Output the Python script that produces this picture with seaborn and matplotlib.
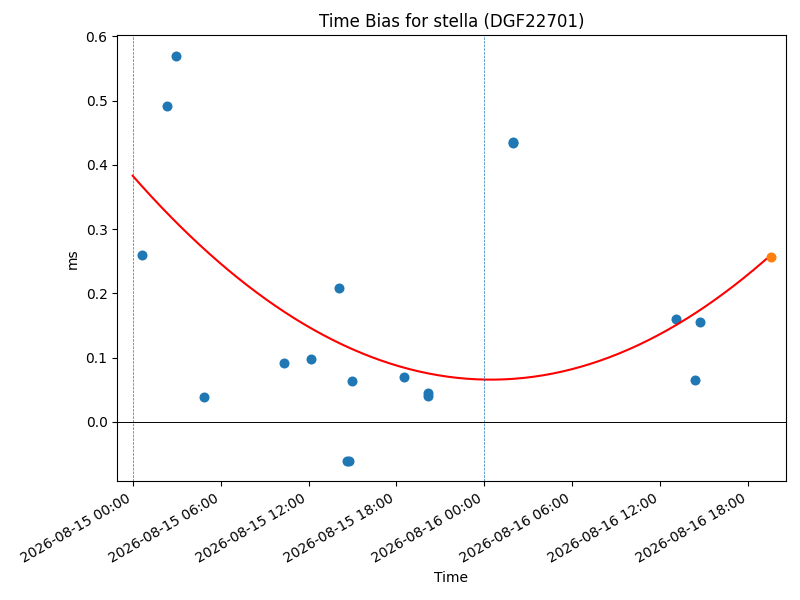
import numpy as np
import pandas as pd
import matplotlib
matplotlib.use('Agg')
import matplotlib.pyplot as plt
import matplotlib.dates as mdates
import seaborn as sns

# time bias samples, hours after 2026-08-15 00:00
start = pd.Timestamp('2026-08-15 00:00')
hours = [0.63, 2.34, 2.96, 4.87, 10.33, 12.17, 14.08, 14.63, 14.76, 14.97,
         18.52, 20.16, 20.16, 25.93, 25.98, 37.09, 38.39, 38.73]
bias_ms = [0.260, 0.492, 0.570, 0.039, 0.092, 0.098, 0.209, -0.061, -0.061, 0.064,
           0.070, 0.045, 0.040, 0.434, 0.435, 0.160, 0.065, 0.156]

# latest sample
last_hour = 43.52
last_bias = 0.257

# quadratic fit (highest power first), evaluated over [fit_start, fit_end] hours
fit_coef = [0.0005316, -0.02598, 0.383]
fit_start = 0.0
fit_end = 43.23

day_lines = ['2026-08-15 00:00', '2026-08-16 00:00']

times = start + pd.to_timedelta(hours, unit='h')
df = pd.DataFrame({'Time': times, 'ms': bias_ms})

fit_h = np.linspace(fit_start, fit_end, 200)
fit_df = pd.DataFrame({'Time': start + pd.to_timedelta(fit_h, unit='h'),
                       'ms': np.polyval(fit_coef, fit_h)})

fig, ax = plt.subplots(figsize=(8, 6), dpi=100)

sns.scatterplot(data=df, x='Time', y='ms', color='tab:blue', s=52, linewidth=0, ax=ax)
sns.lineplot(data=fit_df, x='Time', y='ms', color='red', linewidth=1.5, ax=ax)
sns.scatterplot(x=[start + pd.Timedelta(hours=last_hour)], y=[last_bias],
                color='tab:orange', s=52, linewidth=0, ax=ax, zorder=3)

for d in day_lines:
    ax.axvline(pd.Timestamp(d), color='tab:blue', linestyle='--', linewidth=0.5)
ax.axhline(0, color='black', linewidth=0.7)

ax.set_xlim(start - pd.Timedelta(hours=1.05), start + pd.Timedelta(hours=44.55))
ax.xaxis.set_major_locator(mdates.HourLocator(byhour=[0, 6, 12, 18]))
ax.xaxis.set_major_formatter(mdates.DateFormatter('%Y-%m-%d %H:%M'))
ax.set_title('Time Bias for stella (DGF22701)')
ax.set_xlabel('Time')
ax.set_ylabel('ms')

fig.autofmt_xdate()
fig.subplots_adjust(left=0.1466, right=0.982, bottom=0.198, top=0.941)
plt.savefig('out.png')
